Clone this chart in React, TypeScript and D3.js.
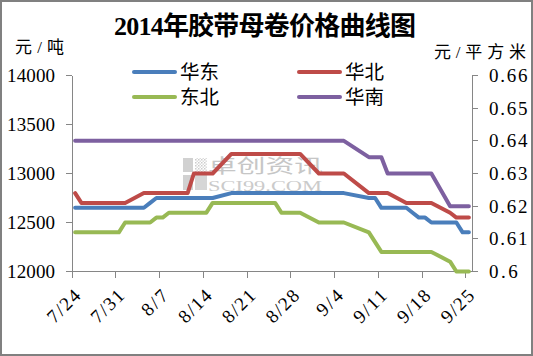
import React from "react";
import * as d3 from "d3";

const title = "2014年胶带母卷价格曲线图";
const leftUnit = "元/吨";
const rightUnit = "元/平方米";

const dates = [
  "2014-07-24", "2014-07-25",
  "2014-07-28", "2014-07-29", "2014-07-30", "2014-07-31", "2014-08-01",
  "2014-08-04", "2014-08-05", "2014-08-06", "2014-08-07", "2014-08-08",
  "2014-08-11", "2014-08-12", "2014-08-13", "2014-08-14", "2014-08-15",
  "2014-08-18", "2014-08-19", "2014-08-20", "2014-08-21", "2014-08-22",
  "2014-08-25", "2014-08-26", "2014-08-27", "2014-08-28", "2014-08-29",
  "2014-09-01", "2014-09-02", "2014-09-03", "2014-09-04", "2014-09-05",
  "2014-09-09", "2014-09-10", "2014-09-11", "2014-09-12",
  "2014-09-15", "2014-09-16", "2014-09-17", "2014-09-18", "2014-09-19",
  "2014-09-22", "2014-09-23", "2014-09-24", "2014-09-25",
];

// 华东 (left axis, 元/吨)
const huadong = [
  12650, 12650,
  12650, 12650, 12650, 12650, 12650,
  12650, 12700, 12750, 12750, 12750,
  12750, 12750, 12750, 12750, 12750,
  12800, 12800, 12800, 12800, 12800,
  12800, 12800, 12800, 12800, 12800,
  12800, 12800, 12800, 12800, 12800,
  12750, 12750, 12650, 12650,
  12650, 12600, 12550, 12550, 12500,
  12500, 12500, 12400, 12400,
];

// 华北 (left axis)
const huabei = [
  12800, 12700,
  12700, 12700, 12700, 12700, 12700,
  12800, 12800, 12800, 12800, 12800,
  12800, 13000, 13000, 13000, 13000,
  13200, 13200, 13200, 13200, 13200,
  13200, 13200, 13200, 13200, 13200,
  13000, 13000, 13000, 13000, 13000,
  12800, 12800, 12800, 12800,
  12700, 12700, 12700, 12700, 12700,
  12600, 12550, 12550, 12550,
];

// 东北 (left axis)
const dongbei = [
  12400, 12400,
  12400, 12400, 12400, 12400, 12500,
  12500, 12500, 12550, 12550, 12600,
  12600, 12600, 12600, 12600, 12700,
  12700, 12700, 12700, 12700, 12700,
  12700, 12600, 12600, 12600, 12600,
  12500, 12500, 12500, 12500, 12500,
  12400, 12300, 12200, 12200,
  12200, 12200, 12200, 12200, 12200,
  12100, 12000, 12000, 12000,
];

// 华南 (right axis, 元/平方米)
const huanan = [
  0.64, 0.64,
  0.64, 0.64, 0.64, 0.64, 0.64,
  0.64, 0.64, 0.64, 0.64, 0.64,
  0.64, 0.64, 0.64, 0.64, 0.64,
  0.64, 0.64, 0.64, 0.64, 0.64,
  0.64, 0.64, 0.64, 0.64, 0.64,
  0.64, 0.64, 0.64, 0.64, 0.64,
  0.635, 0.635, 0.635, 0.63,
  0.63, 0.63, 0.63, 0.63, 0.63,
  0.62, 0.62, 0.62, 0.62,
];

const xTickLabels = ["7/24", "7/31", "8/7", "8/14", "8/21", "8/28", "9/4", "9/11", "9/18", "9/25"];
const leftTicks = [12000, 12500, 13000, 13500, 14000];
const rightTicks = [0.6, 0.61, 0.62, 0.63, 0.64, 0.65, 0.66];

const seriesNames = ["华东", "华北", "东北", "华南"];
const seriesColors = ["#4A7EBB", "#BE4B48", "#98B954", "#7D60A0"];

const W = 533;
const H = 356;
const left = 72;
const right = 472;
const top = 75.5;
const bottom = 271.5;

const serif = "'Liberation Serif', 'DejaVu Serif', 'Noto Sans CJK SC', serif";
const cjk = "'Liberation Serif', 'Noto Sans CJK SC', sans-serif";
const axisColor = "#868686";
const charW = 9.6;

export default function App() {
  const parse = d3.timeParse("%Y-%m-%d");
  const start = parse(dates[0]) as Date;
  const dayIdx = dates.map((d) => d3.timeDay.count(start, parse(d) as Date));
  const nDays = 64;

  const x = d3.scaleLinear().domain([0, nDays]).range([left, right]);
  const y = d3.scaleLinear().domain([12000, 14000]).range([bottom, top]);
  const yR = d3.scaleLinear().domain([0.6, 0.66]).range([bottom, top]);

  const mk = (vals: number[], sc: d3.ScaleLinear<number, number>) =>
    d3
      .line<number>()
      .x((_, i) => x(dayIdx[i] + 0.5))
      .y((v) => sc(v))(vals) || "";

  const paths = [
    mk(huadong, y),
    mk(huabei, y),
    mk(dongbei, y),
    mk(huanan, yR),
  ];

  const tickDays = xTickLabels.map((_, i) => i * 7);

  const legendPos = [
    { x1: 134, x2: 175, ty: 72 },
    { x1: 299, x2: 340, ty: 72 },
    { x1: 134, x2: 175, ty: 97 },
    { x1: 299, x2: 340, ty: 97 },
  ];

  return (
    <svg
      width={W}
      height={H}
      style={{ position: "absolute", left: 0, top: 0, background: "#fff" }}
    >
      <defs>
        <pattern id="dots" width="3" height="3" patternUnits="userSpaceOnUse">
          <rect x="0" y="0" width="1.5" height="1.5" fill="#c4c4c4" />
          <rect x="1.5" y="1.5" width="1.5" height="1.5" fill="#d8d8d8" />
        </pattern>
      </defs>
      <rect x={0} y={0} width={W} height={H} fill="#fff" />
      <rect x={1} y={1} width={W - 2} height={H - 2} fill="none" stroke="#808080" strokeWidth={2} />

      {/* title */}
      <text
        x={265}
        y={35}
        textAnchor="middle"
        fontFamily={cjk}
        fontWeight="bold"
        fontSize={26}
        textLength={302}
        lengthAdjust="spacing"
      >
        {title}
      </text>
      <text x={15} y={53} fontFamily={cjk} fontSize={17} textLength={49} lengthAdjust="spacing">
        {leftUnit}
      </text>
      <text x={434} y={58} fontFamily={cjk} fontSize={17} textLength={92} lengthAdjust="spacing">
        {rightUnit}
      </text>

      {/* watermark */}
      <g opacity={0.85}>
        <rect x={183} y={158} width={10} height={14} fill="#c9c9c9" />
        <rect x={195} y={158} width={12} height={14} fill="url(#dots)" />
        <rect x={183} y={175} width={10} height={15} fill="#c9c9c9" />
        <rect x={195} y={175} width={12} height={15} fill="#d0d0d0" />
        <text
          x={208}
          y={173}
          fontFamily="'Noto Sans CJK SC', sans-serif"
          fontSize={19}
          fill="#bdbdbd"
          textLength={115}
          lengthAdjust="spacingAndGlyphs"
        >
          卓创资讯
        </text>
        <text
          x={208}
          y={191}
          fontFamily={serif}
          fontSize={14}
          fill="#c2c2c2"
          textLength={114}
          lengthAdjust="spacingAndGlyphs"
        >
          SCI99.COM
        </text>
      </g>

      {/* axes */}
      <g stroke={axisColor} strokeWidth={1} fill="none" shapeRendering="crispEdges">
        <line x1={left} x2={left} y1={top} y2={bottom} />
        <line x1={right} x2={right} y1={top} y2={bottom} />
        <line x1={left} x2={right} y1={bottom} y2={bottom} />
        {leftTicks.map((t) => (
          <line key={"lt" + t} x1={left - 6} x2={left} y1={y(t)} y2={y(t)} />
        ))}
        {rightTicks.map((t) => (
          <line key={"rt" + t} x1={right} x2={right + 6} y1={yR(t)} y2={yR(t)} />
        ))}
        {tickDays.map((d) => (
          <line key={"xt" + d} x1={x(d)} x2={x(d)} y1={bottom} y2={bottom + 6} />
        ))}
      </g>

      {/* tick labels */}
      {leftTicks.map((t) => {
        const s = String(t);
        return (
          <text
            key={"ll" + t}
            x={55}
            y={y(t) + 6.5}
            textAnchor="end"
            fontFamily={serif}
            fontSize={19}
            textLength={s.length * charW}
            lengthAdjust="spacing"
          >
            {s}
          </text>
        );
      })}
      {rightTicks.map((t) => {
        const s = d3.format(".2~f")(t);
        return (
          <text
            key={"rl" + t}
            x={489}
            y={yR(t) + 6.5}
            fontFamily={serif}
            fontSize={19}
            textLength={s.length * charW}
            lengthAdjust="spacing"
          >
            {s}
          </text>
        );
      })}
      {xTickLabels.map((lab, i) => {
        const cx = x(tickDays[i] + 0.5) + 6.5;
        const cy = 297;
        return (
          <text
            key={"xl" + lab}
            transform={`translate(${cx},${cy}) rotate(-45)`}
            textAnchor="end"
            fontFamily={serif}
            fontSize={19}
            textLength={lab.length * charW}
            lengthAdjust="spacing"
          >
            {lab}
          </text>
        );
      })}

      {/* series */}
      {paths.map((p, i) => (
        <path
          key={"s" + i}
          d={p}
          fill="none"
          stroke={seriesColors[i]}
          strokeWidth={4}
          strokeLinejoin="round"
          strokeLinecap="round"
        />
      ))}

      {/* legend */}
      {seriesNames.map((n, i) => (
        <g key={"lg" + n}>
          <line
            x1={legendPos[i].x1}
            x2={legendPos[i].x2}
            y1={legendPos[i].ty}
            y2={legendPos[i].ty}
            stroke={seriesColors[i]}
            strokeWidth={4}
            strokeLinecap="round"
          />
          <text
            x={legendPos[i].x2 + 5}
            y={legendPos[i].ty + 7}
            fontFamily={cjk}
            fontSize={19.5}
            textLength={39}
            lengthAdjust="spacing"
          >
            {n}
          </text>
        </g>
      ))}
    </svg>
  );
}
